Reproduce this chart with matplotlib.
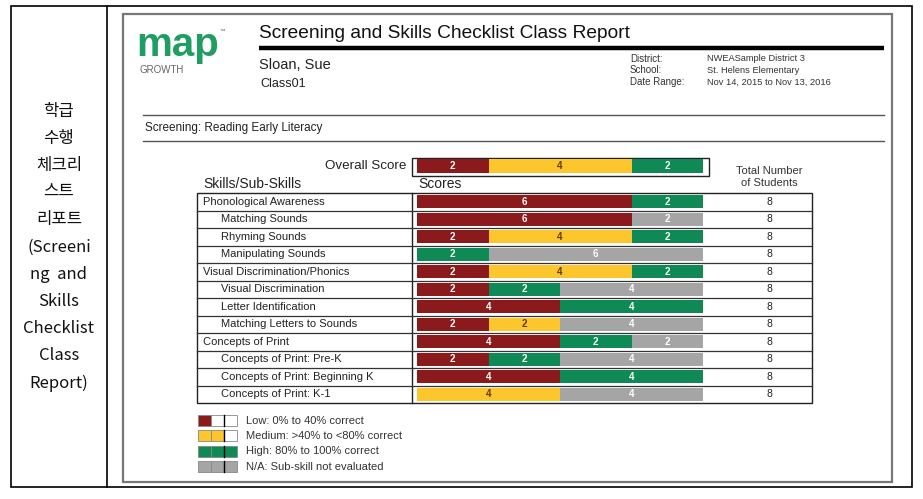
import numpy as np
import matplotlib
matplotlib.use("Agg")
import matplotlib.pyplot as plt
from matplotlib.patches import Rectangle

plt.rcParams['font.family'] = ['Liberation Sans', 'DejaVu Sans']

# =========================
# Data
# =========================
skills = [
    "Phonological Awareness", "Matching Sounds", "Rhyming Sounds",
    "Manipulating Sounds", "Visual Discrimination/Phonics",
    "Visual Discrimination", "Letter Identification",
    "Matching Letters to Sounds", "Concepts of Print",
    "Concepts of Print: Pre-K", "Concepts of Print: Beginning K",
    "Concepts of Print: K-1",
]
is_sub = [False, True, True, True, False, True, True, True, False, True, True, True]
low = [6, 6, 2, 0, 2, 2, 4, 2, 4, 2, 4, 0]
medium = [0, 0, 4, 0, 4, 0, 0, 2, 0, 0, 0, 4]
high = [2, 0, 2, 2, 2, 2, 4, 0, 2, 2, 4, 0]
na = [0, 2, 0, 6, 0, 4, 0, 4, 2, 4, 0, 4]
totals = [8] * 12
overall = [2, 4, 2, 0]

legend_labels = ["Low: 0% to 40% correct", "Medium: >40% to <80% correct",
                 "High: 80% to 100% correct", "N/A: Sub-skill not evaluated"]
left_text = ["학급", "수행", "체크리", "스트", "리포트", "(Screeni", "ng  and",
             "Skills", "Checklist", "Class", "Report)"]

RED, YEL, GRN, GRY = "#8b1a1c", "#fcc62c", "#0f8a57", "#a5a5a5"
seg_colors = [RED, YEL, GRN, GRY]
txt_colors = ["white", "#5a3c00", "white", "white"]

W, H = 923, 499
fig = plt.figure(figsize=(W / 100, H / 100), dpi=100)

# background axes in pixel coordinates
bg = fig.add_axes([0, 0, 1, 1])
bg.set_xlim(0, W)
bg.set_ylim(H, 0)
bg.axis("off")

# outer document table
bg.add_patch(Rectangle((11, 6), 901, 481, fill=False, ec="black", lw=1.2))
bg.plot([107, 107], [6, 487], color="black", lw=1.2)
for i, t in enumerate(left_text):
    bg.text(59, 111 + i * 27.2, t, ha="center", va="center", fontsize=12,
            family=["Noto Sans CJK KR", "DejaVu Sans"], color="#111")

# report frame
bg.add_patch(Rectangle((123, 14), 769, 468, fill=False, ec="#777", lw=1.6))

# logo
bg.text(136, 56, "map", fontsize=29, fontweight="bold", color="#1f9e62",
        va="baseline")
bg.text(140, 70, "GROWTH", fontsize=7, color="#666", va="center")
bg.text(219, 31, "™", fontsize=4, color="#666", va="center")

# header
bg.text(259, 33, "Screening and Skills Checklist Class Report", fontsize=13.8,
        va="center", color="#111")
bg.plot([259, 884], [47.5, 47.5], color="black", lw=3.2, solid_capstyle="butt")
bg.text(259, 65, "Sloan, Sue", fontsize=10.5, va="center", color="#222")
bg.text(260, 84, "Class01", fontsize=9, va="center", color="#222")
for i, (k, v) in enumerate([("District:", "NWEASample District 3"),
                            ("School:", "St. Helens Elementary"),
                            ("Date Range:", "Nov 14, 2015 to Nov 13, 2016")]):
    bg.text(630, 58.5 + i * 11.8, k, fontsize=7, va="center", color="#333")
    bg.text(707, 58.5 + i * 11.8, v, fontsize=6.7, va="center", color="#333")

bg.plot([143, 884], [115, 115], color="#555", lw=1)
bg.text(145, 128, "Screening: Reading Early Literacy", fontsize=8.5, va="center",
        color="#222")
bg.plot([143, 884], [141, 141], color="#555", lw=1)

# table headers
bg.text(406, 166, "Overall Score", fontsize=9.6, ha="right", va="center",
        color="#222")
bg.add_patch(Rectangle((412, 158), 297, 18, fill=False, ec="#222", lw=1))
bg.text(203, 184, "Skills/Sub-Skills", fontsize=10, va="center", color="#222")
bg.text(418, 184, "Scores", fontsize=10, va="center", color="#222")
bg.text(769, 171, "Total Number", fontsize=8, ha="center", va="center", color="#333")
bg.text(769, 183, "of Students", fontsize=8, ha="center", va="center", color="#333")

# table grid
top, row_h, n = 193, 17.5, len(skills)
bg.add_patch(Rectangle((197, top), 615, row_h * n, fill=False, ec="#222", lw=1))
bg.plot([412, 412], [top, top + row_h * n], color="#222", lw=1)
for i in range(1, n):
    bg.plot([197, 812], [top + i * row_h] * 2, color="#333", lw=0.9)
for i, s in enumerate(skills):
    y = top + (i + 0.5) * row_h
    bg.text(221 if is_sub[i] else 203, y, s, fontsize=8, va="center",
            color="#222")

# legend
for j, lab in enumerate(legend_labels):
    y0 = 415 + j * 15.4
    for k in range(3):
        filled = [1, 2, 3, 3][j] > k
        bg.add_patch(Rectangle((198 + k * 13, y0), 13, 11,
                               fc=seg_colors[j] if filled else "white",
                               ec="#888", lw=0.6))
    bg.plot([224, 224], [y0, y0 + 11], color="black", lw=1)
    bg.text(246, y0 + 5.5, lab, fontsize=8, va="center", color="#333")

# =========================
# Bars
# =========================
x0, x1 = 417, 703
ytop = 150
ax = fig.add_axes([x0 / W, 1 - (top + row_h * n) / H, (x1 - x0) / W,
                   (top + row_h * n - ytop) / H])
ax.set_xlim(0, 8)
ax.set_ylim(n, (ytop - top) / row_h)
ax.axis("off")

data = np.array([low, medium, high, na])
ypos = np.arange(n) + 0.5
left = np.zeros(n)
for k in range(4):
    ax.barh(ypos, data[k], left=left, height=0.74, color=seg_colors[k])
    for i in range(n):
        if data[k, i] > 0:
            ax.text(left[i] + data[k, i] / 2, ypos[i], str(data[k, i]),
                    ha="center", va="center", fontsize=7, fontweight="bold",
                    color=txt_colors[k])
    left += data[k]

oy = (166 - top) / row_h
ol = 0
for k, v in enumerate(overall):
    if v > 0:
        ax.barh(oy, v, left=ol, height=0.8, color=seg_colors[k])
        ax.text(ol + v / 2, oy, str(v), ha="center", va="center", fontsize=7,
                fontweight="bold", color=txt_colors[k])
    ol += v

unit = (x1 - x0) / 8
for i, t in enumerate(totals):
    ax.text(8 + (769 - x1) / unit, ypos[i], str(t), ha="center", va="center",
            fontsize=7.5, color="#222", clip_on=False)

fig.savefig("out.png", dpi=100)
